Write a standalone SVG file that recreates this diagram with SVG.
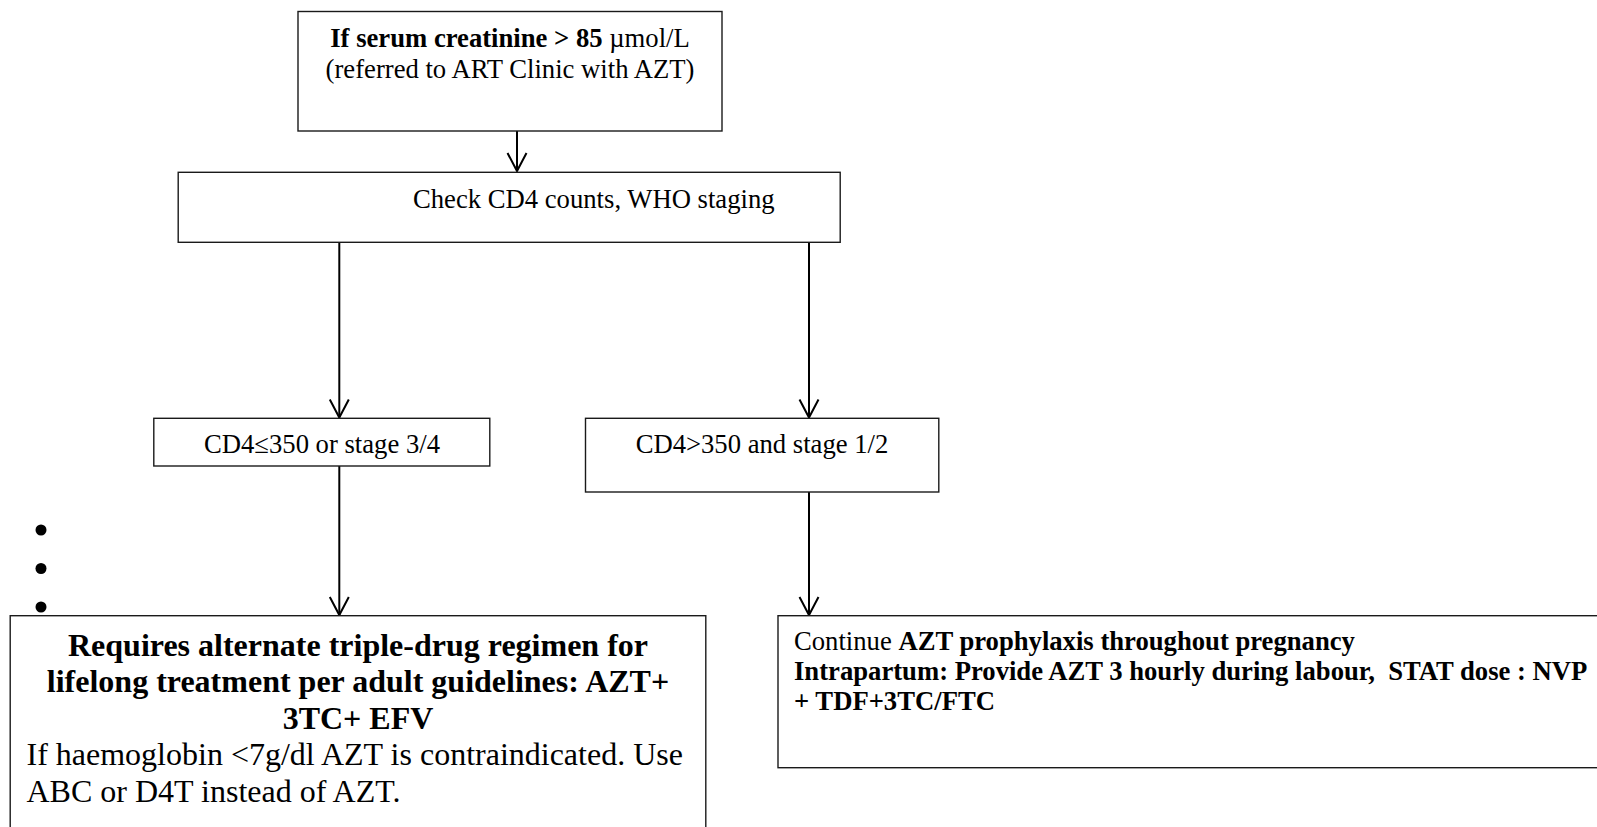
<svg xmlns="http://www.w3.org/2000/svg" width="1597" height="827" viewBox="0 0 1597 827">
<style>
.box{fill:#fff;stroke:#1a1a1a;stroke-width:1.4}
.t{font-family:"Liberation Serif","Times New Roman",serif;font-size:26.67px;fill:#000}
.big{font-family:"Liberation Serif","Times New Roman",serif;font-size:32px;fill:#000}
.b{font-weight:bold}
.conn{stroke:#000;stroke-width:2;fill:none}
</style>
<defs>
<marker id="v" markerUnits="userSpaceOnUse" markerWidth="24" markerHeight="24" refX="20" refY="12" orient="auto" overflow="visible">
<path d="M2,2.5 L20,12 L2,21.5" fill="none" stroke="#000" stroke-width="2"/>
</marker>
</defs>
<rect width="1597" height="827" fill="#fff"/>
<g id="connectors">
<line class="conn" x1="517" y1="131" x2="517" y2="171" marker-end="url(#v)"/>
<line class="conn" x1="339.3" y1="242.3" x2="339.3" y2="417.5" marker-end="url(#v)"/>
<line class="conn" x1="809" y1="242.3" x2="809" y2="417.5" marker-end="url(#v)"/>
<line class="conn" x1="339.3" y1="466" x2="339.3" y2="615" marker-end="url(#v)"/>
<line class="conn" x1="809" y1="492" x2="809" y2="615" marker-end="url(#v)"/>
</g>
<g id="node-creatinine">
<rect class="box" x="298" y="11.5" width="424" height="119.5"/>
<text class="t" x="510" y="46.5" text-anchor="middle"><tspan class="b">If serum creatinine &gt; 85</tspan> µmol/L</text>
<text class="t" x="510" y="77.5" text-anchor="middle">(referred to ART Clinic with AZT)</text>
</g>
<g id="node-check">
<rect class="box" x="178.2" y="172.3" width="662" height="70"/>
<text class="t" x="413" y="208">Check CD4 counts, WHO staging</text>
</g>
<g id="node-low">
<rect class="box" x="153.8" y="418.3" width="336" height="47.7"/>
<text class="t" x="322" y="453" text-anchor="middle">CD4≤350 or stage 3/4</text>
</g>
<g id="node-high">
<rect class="box" x="585.5" y="418.3" width="353.3" height="73.7"/>
<text class="t" x="762" y="453" text-anchor="middle">CD4&gt;350 and stage 1/2</text>
</g>
<g id="bullets">
<circle cx="41" cy="530" r="5.5" fill="#000"/>
<circle cx="41" cy="568.5" r="5.5" fill="#000"/>
<circle cx="41" cy="607" r="5.5" fill="#000"/>
</g>
<g id="node-regimen">
<rect class="box" x="10.2" y="615.7" width="695.6" height="230"/>
<text class="big b" x="358" y="655.5" text-anchor="middle">Requires alternate triple-drug regimen for</text>
<text class="big b" x="358" y="692" text-anchor="middle">lifelong treatment per adult guidelines: AZT+</text>
<text class="big b" x="358" y="728.5" text-anchor="middle">3TC+ EFV</text>
<text class="big" x="26.5" y="765">If haemoglobin &lt;7g/dl AZT is contraindicated. Use</text>
<text class="big" x="26.5" y="801.5">ABC or D4T instead of AZT.</text>
</g>
<g id="node-prophylaxis">
<rect class="box" x="778" y="615.7" width="840" height="152"/>
<text class="t" x="794" y="650">Continue <tspan class="b">AZT prophylaxis throughout pregnancy</tspan></text>
<text class="t b" x="794" y="680" xml:space="preserve">Intrapartum: Provide AZT 3 hourly during labour,  STAT dose : NVP</text>
<text class="t b" x="794" y="710">+ TDF+3TC/FTC</text>
</g>
</svg>
